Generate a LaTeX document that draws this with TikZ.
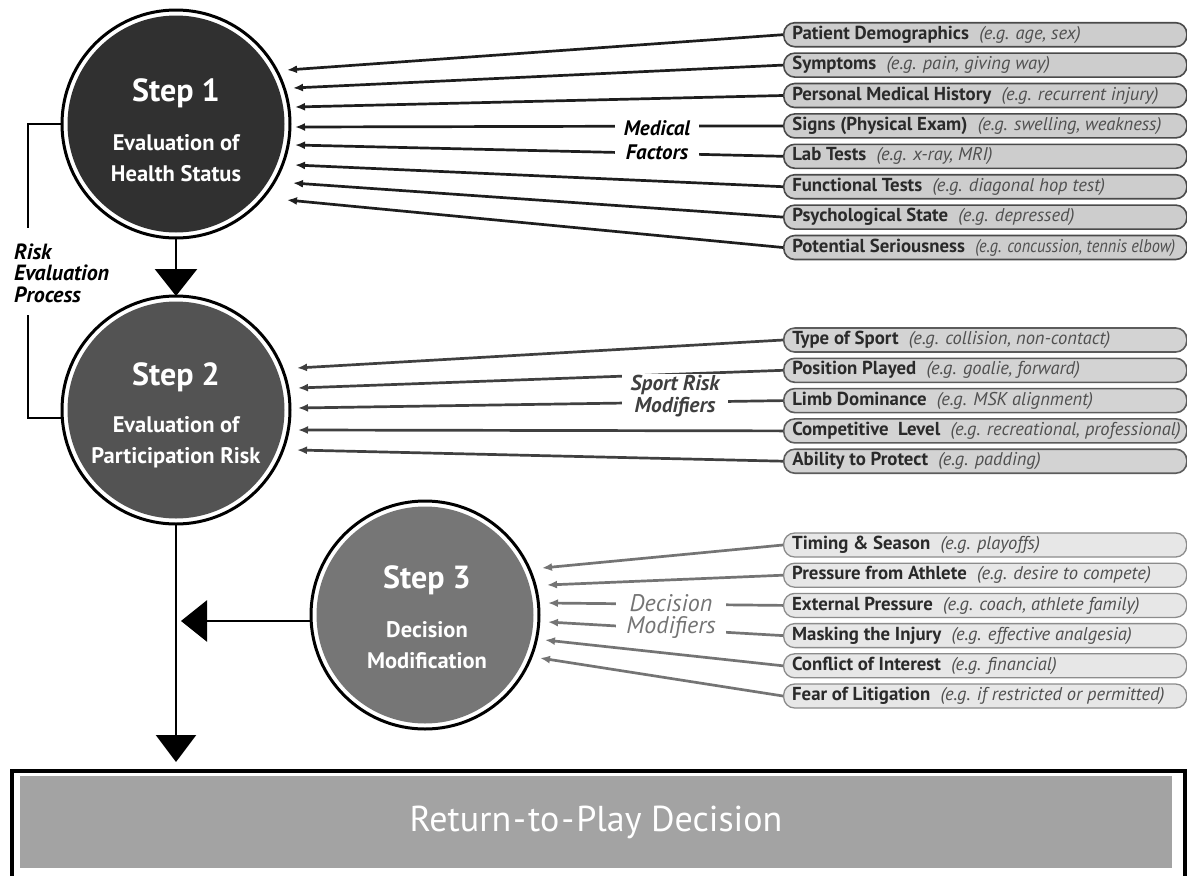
\documentclass[tikz,border=0pt]{standalone}
\usepackage{fontspec}
\setmainfont{PT Sans}
\usetikzlibrary{arrows.meta,calc}
\definecolor{sOne}{HTML}{303030}
\definecolor{sTwo}{HTML}{535353}
\definecolor{sThree}{HTML}{767676}
\definecolor{mbf}{HTML}{CDCDCD}
\definecolor{mbd}{HTML}{4A4A4A}
\definecolor{sbf}{HTML}{D3D3D3}
\definecolor{sbd}{HTML}{5C5C5C}
\definecolor{dbf}{HTML}{E7E7E7}
\definecolor{dbd}{HTML}{8C8C8C}
\definecolor{mac}{HTML}{1E1E1E}
\definecolor{sac}{HTML}{404040}
\definecolor{dac}{HTML}{747474}
\definecolor{boldc}{HTML}{2A2A2A}
\definecolor{itc}{HTML}{505050}
\definecolor{rtpg}{HTML}{A3A3A3}
\newcommand{\bxt}[2]{\makebox[386pt][l]{{\color{boldc}\bfseries #1}\hspace{0.55em}{\color{itc}\fontsize{18.5}{20}\selectfont\itshape #2}}}
\tikzset{
  stepc/.style={circle, draw=black, line width=3pt, fill=white, minimum size=228pt, inner sep=0pt, outer sep=0pt,
    path picture={\fill[#1] (path picture bounding box.center) circle (108.5pt);}},
  stt/.style={text=white, font=\fontsize{32}{34}\selectfont\bfseries, inner sep=0pt},
  sst/.style={text=white, font=\fontsize{22.5}{30.5}\selectfont\bfseries, align=center, inner sep=0pt},
  fbox/.style={rectangle, rounded corners=11pt, minimum height=24pt, minimum width=403pt, inner xsep=8pt, inner ysep=0pt, anchor=west, line width=1.6pt, font=\fontsize{18.8}{20}\selectfont},
  mbox/.style={fbox, draw=mbd, fill=mbf},
  sbox/.style={fbox, draw=sbd, fill=sbf},
  dbox/.style={fbox, draw=dbd, fill=dbf, line width=1.3pt},
  marr/.style={draw=mac, line width=2.7pt, -{Latex[length=10pt,width=8pt]}},
  sarr/.style={draw=sac, line width=2.7pt, -{Latex[length=10pt,width=8pt]}},
  darr/.style={draw=dac, line width=2.7pt, -{Latex[length=10pt,width=8pt]}},
  mlab/.style={fill=white, inner xsep=9pt, inner ysep=1pt, align=center, font=\fontsize{21}{24}\selectfont\bfseries\itshape, text=black},
  slab/.style={fill=white, inner xsep=9pt, inner ysep=1pt, align=center, font=\fontsize{21.5}{22}\selectfont\bfseries\itshape, text=sac},
  dlab/.style={fill=white, inner xsep=10pt, inner ysep=1pt, align=center, font=\fontsize{24}{22}\selectfont\itshape, text=dac},
  rlab/.style={inner sep=0pt, align=left, font=\fontsize{22}{21.5}\selectfont\bfseries\itshape, text=black},
  brk/.style={draw=black, line width=2.5pt},
  vln/.style={draw=black, line width=2.6pt},
}
\begin{document}
\begin{tikzpicture}[x=1pt,y=-1pt]
\useasboundingbox[fill=white] (0,0) rectangle (1187,876);

% bottom decision box
\node[draw=black, line width=4pt, fill=white, minimum width=1173pt, minimum height=120pt, anchor=north west, inner sep=0pt] (rtpo) at (10,769) {};
\node[fill=rtpg, minimum width=1152pt, minimum height=92pt, inner sep=0pt, text=white, font=\fontsize{36}{38}\selectfont] (rtp) at (596,822) {Return\kern2pt-\kern2pt to\kern2pt-\kern2pt Play Decision};

% step circles
\node[stepc=sOne] (s1) at (176,124) {};
\node[stepc=sTwo] (s2) at (176,410) {};
\node[stepc=sThree] (s3) at (425,615) {};
\node[stt] (s1t) at (176,93) {Step 1};
\node[sst] (s1s) at (176,158) {Evaluation of\\Health Status};
\node[stt] (s2t) at (176,377) {Step 2};
\node[sst] (s2s) at (176,442) {Evaluation of\\Participation Risk};
\node[stt] (s3t) at (427,580) {Step 3};
\node[sst] (s3s) at (427,645) {Decision\\Modification};

% flow arrows
\draw[vln, -{Triangle[length=27pt,width=42pt]}] (s1.south) -- (s2.north);
\coordinate (vend) at ($(s2.south |- rtpo.north)+(0,-7)$);
\draw[vln, -{Triangle[length=27pt,width=40pt]}] (s2.south) -- (vend);
\coordinate (hend) at ($(s2.south |- s3.183)+(5,0)$);
\draw[vln, -{Triangle[length=26pt,width=41pt]}] (s3.183) -- (hend);

% risk evaluation bracket
\node[rlab, anchor=west] (rep) at (14,273) {Risk\\Evaluation\\Process};
\coordinate (rb1) at (28,228);
\coordinate (rb2) at (28,315);
\draw[brk] (s1.west) -| (rb1);
\draw[brk] (rb2) |- (s2.184);

% medical factor boxes
\node[mbox] (m1) at (783,34.7) {\bxt{Patient Demographics}{(e.g. age, sex)}};
\node[mbox] (m2) at (783,65.1) {\bxt{Symptoms}{(e.g. pain, giving way)}};
\node[mbox] (m3) at (783,95.5) {\bxt{Personal Medical History}{(e.g. recurrent injury)}};
\node[mbox] (m4) at (783,125.9) {\bxt{Signs (Physical Exam)}{(e.g. swelling, weakness)}};
\node[mbox] (m5) at (783,156.3) {\bxt{Lab Tests}{(e.g. x-ray, MRI)}};
\node[mbox] (m6) at (783,186.7) {\bxt{Functional Tests}{(e.g. diagonal hop test)}};
\node[mbox] (m7) at (783,217.1) {\bxt{Psychological State}{(e.g. depressed)}};
\node[mbox] (m8) at (783,247.5) {\bxt{Potential Seriousness}{\scalebox{0.88}[1]{(e.g. concussion, tennis elbow)}}};

\coordinate (mt1) at (287,70);
\coordinate (mt2) at (293,88);
\coordinate (mt3) at (295,107);
\coordinate (mt4) at (295,127);
\coordinate (mt5) at (295,145);
\coordinate (mt6) at (295,165);
\coordinate (mt7) at (293,183);
\coordinate (mt8) at (287,200);
\foreach \i in {1,...,8} \draw[marr] (m\i.west) -- (mt\i);

% sport boxes
\node[sbox] (p1) at (783,340) {\bxt{Type of Sport}{(e.g. collision, non-contact)}};
\node[sbox] (p2) at (783,370.3) {\bxt{Position Played}{(e.g. goalie, forward)}};
\node[sbox] (p3) at (783,400.6) {\bxt{Limb Dominance}{(e.g. MSK alignment)}};
\node[sbox] (p4) at (783,430.9) {\bxt{Competitive\hspace{0.5em}Level}{(e.g. recreational, professional)}};
\node[sbox] (p5) at (783,461.2) {\bxt{Ability to Protect}{(e.g. padding)}};
\coordinate (pt1) at (297,368);
\coordinate (pt2) at (298,388);
\coordinate (pt3) at (298,408);
\coordinate (pt4) at (298,430);
\coordinate (pt5) at (297,450);
\foreach \i in {1,...,5} \draw[sarr] (p\i.west) -- (pt\i);

% decision boxes
\node[dbox] (d1) at (783,545) {\bxt{Timing \& Season}{(e.g. playoffs)}};
\node[dbox] (d2) at (783,575.2) {\bxt{Pressure from Athlete}{(e.g. desire to compete)}};
\node[dbox] (d3) at (783,605.4) {\bxt{External Pressure}{(e.g. coach, athlete family)}};
\node[dbox] (d4) at (783,635.6) {\bxt{Masking the Injury}{(e.g. effective analgesia)}};
\node[dbox] (d5) at (783,665.8) {\bxt{Conflict of Interest}{(e.g. financial)}};
\node[dbox] (d6) at (783,696) {\bxt{Fear of Litigation}{(e.g. if restricted or permitted)}};
\coordinate (dt1) at (542,568);
\coordinate (dt2) at (547,585);
\coordinate (dt3) at (548,603);
\coordinate (dt4) at (548,622);
\coordinate (dt5) at (545,640);
\coordinate (dt6) at (540,658);
\foreach \i in {1,...,6} \draw[darr] (d\i.west) -- (dt\i);

% group labels
\node[mlab] (mf) at (657,140) {Medical\\Factors};
\node[slab] (sr) at (675,396) {Sport Risk\\Modifiers};
\node[dlab] (dm) at (671,616) {Decision\\Modifiers};
\end{tikzpicture}
\end{document}
